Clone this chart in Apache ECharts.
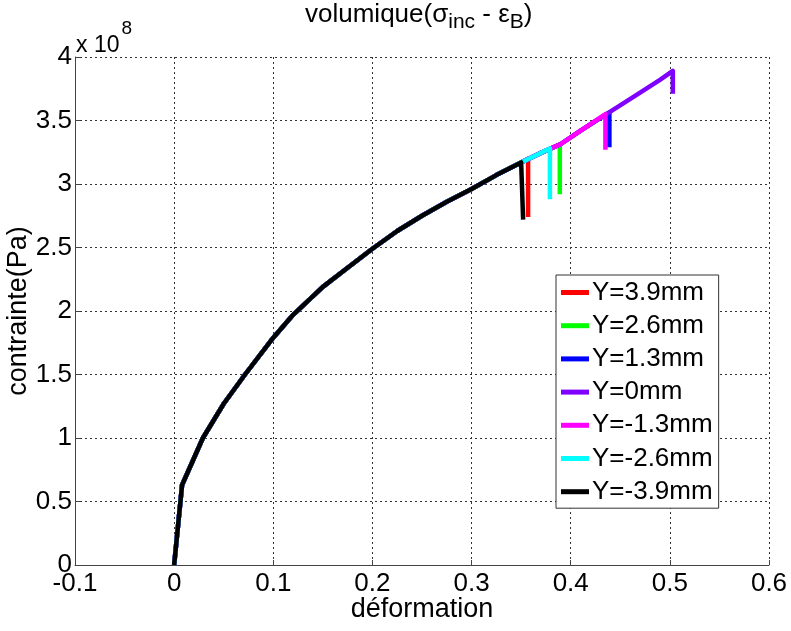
<!DOCTYPE html>
<html>
<head>
<meta charset="utf-8">
<script src="https://cdn.jsdelivr.net/npm/echarts@6/dist/echarts.min.js"></script>
<style>
html,body{margin:0;padding:0;background:#fff;}
#chart{width:791px;height:631px;}
</style>
</head>
<body>
<div id="chart"></div>
<script>
// Shared loading curve (strain, stress in units of 1e8 Pa)
const baseStrain = [0, 0.008, 0.029, 0.05, 0.0715, 0.1, 0.12, 0.15, 0.175, 0.2, 0.225, 0.25, 0.275, 0.3, 0.325, 0.35, 0.37, 0.39, 0.41, 0.436, 0.47, 0.49];
const baseStress = [0, 0.63, 1.0, 1.27, 1.5, 1.79, 1.97, 2.19, 2.34, 2.49, 2.63, 2.75, 2.86, 2.96, 3.07, 3.17, 3.245, 3.315, 3.42, 3.55, 3.72, 3.82];

// Series (legend order)
const seriesNames = ['Y=3.9mm', 'Y=2.6mm', 'Y=1.3mm', 'Y=0mm', 'Y=-1.3mm', 'Y=-2.6mm', 'Y=-3.9mm'];
const seriesColors = ['#ff0000', '#00ff00', '#0000ff', '#8000ff', '#ff00ff', '#00ffff', '#000000'];
// Failure point of each series: strain, stress at peak, stress after drop (1e8 Pa)
const endStrain = [0.357, 0.389, 0.439, 0.503, 0.435, 0.379, 0.352];
const endTop    = [3.20, 3.31, 3.56, 3.89, 3.55, 3.28, 3.18];
const endBottom = [2.74, 2.92, 3.29, 3.71, 3.27, 2.88, 2.72];

// Axis ticks
const xTicks = [-0.1, 0, 0.1, 0.2, 0.3, 0.4, 0.5, 0.6];
const yTicks = [0, 0.5, 1, 1.5, 2, 2.5, 3, 3.5, 4];

const FONT = '"Liberation Sans", Arial, sans-serif';

function buildData(i) {
  const pts = [];
  for (let k = 0; k < baseStrain.length; k++) {
    if (baseStrain[k] < endStrain[i]) pts.push([baseStrain[k], baseStress[k]]);
  }
  pts.push([endStrain[i], endTop[i]]);
  pts.push([endStrain[i], endBottom[i]]);
  return pts;
}

const series = seriesNames.map((name, i) => ({
  name: name,
  type: 'line',
  data: buildData(i),
  showSymbol: false,
  symbol: 'none',
  color: seriesColors[i],
  lineStyle: { width: 4.5, color: seriesColors[i], join: 'round', cap: 'butt' },
  animation: false
}));

const chart = echarts.init(document.getElementById('chart'), null, { renderer: 'canvas' });
chart.setOption({
  animation: false,
  backgroundColor: '#fff',
  graphic: [{
    type: 'text', left: 305, top: 2,
    style: {
      text: '{a|volumique(σ}{s|inc}{a| - ε}{s|B}{a|)}',
      rich: {
        a: { fontFamily: FONT, fontSize: 26, fontWeight: 'normal', fill: '#000', lineHeight: 31, verticalAlign: 'top' },
        s: { fontFamily: FONT, fontSize: 21, fontWeight: 'normal', fill: '#000', lineHeight: 21, verticalAlign: 'bottom' }
      }
    }
  }, {
    type: 'text', left: 76, top: 19,
    style: {
      text: '{a|x 10}{b|8}',
      rich: {
        a: { fontFamily: FONT, fontSize: 23, fill: '#000', lineHeight: 38, verticalAlign: 'bottom' },
        b: { fontFamily: FONT, fontSize: 19, fill: '#000', lineHeight: 19, verticalAlign: 'top', padding: [0, 0, 0, 2] }
      }
    }
  }],
  grid: { left: 75, right: 22, top: 57, bottom: 66, containLabel: false, outerBoundsMode: 'none' },
  legend: {
    orient: 'vertical',
    left: 556, top: 275,
    backgroundColor: '#fff',
    borderColor: '#333', borderWidth: 1, borderRadius: 0,
    padding: [4, 6, 3, 5],
    itemWidth: 28, itemHeight: 5, itemGap: 6.2,
    icon: 'rect',
    textStyle: { fontFamily: FONT, fontSize: 26, color: '#000', lineHeight: 27, padding: [0, 0, 0, -2] },
    data: seriesNames
  },
  xAxis: {
    type: 'value', min: -0.1, max: 0.6, interval: 0.1,
    name: 'déformation', nameLocation: 'middle', nameGap: 31, nameMoveOverlap: false,
    nameTextStyle: { fontFamily: FONT, fontSize: 27, color: '#000' },
    axisLine: { show: true, onZero: false, lineStyle: { color: '#444', width: 1 } },
    axisTick: { show: true, inside: true, length: 5, lineStyle: { color: '#444' } },
    axisLabel: {
      fontFamily: FONT, fontSize: 26, color: '#000', margin: 6,
      formatter: v => String(Math.round(v * 10) / 10)
    },
    splitLine: { show: true, lineStyle: { color: '#333', width: 1, type: [2, 3] } }
  },
  yAxis: {
    type: 'value', min: 0, max: 4, interval: 0.5,
    name: 'contrainte(Pa)', nameLocation: 'middle', nameGap: 43, nameRotate: 90, nameMoveOverlap: false,
    nameTextStyle: { fontFamily: FONT, fontSize: 27, color: '#000' },
    axisLine: { show: true, onZero: false, lineStyle: { color: '#444', width: 1 } },
    axisTick: { show: true, inside: true, length: 5, lineStyle: { color: '#444' } },
    axisLabel: {
      fontFamily: FONT, fontSize: 26, color: '#000', margin: 3,
      formatter: v => String(Math.round(v * 10) / 10)
    },
    splitLine: { show: true, lineStyle: { color: '#333', width: 1, type: [2, 3] } }
  },
  series: series
});
</script>
</body>
</html>
